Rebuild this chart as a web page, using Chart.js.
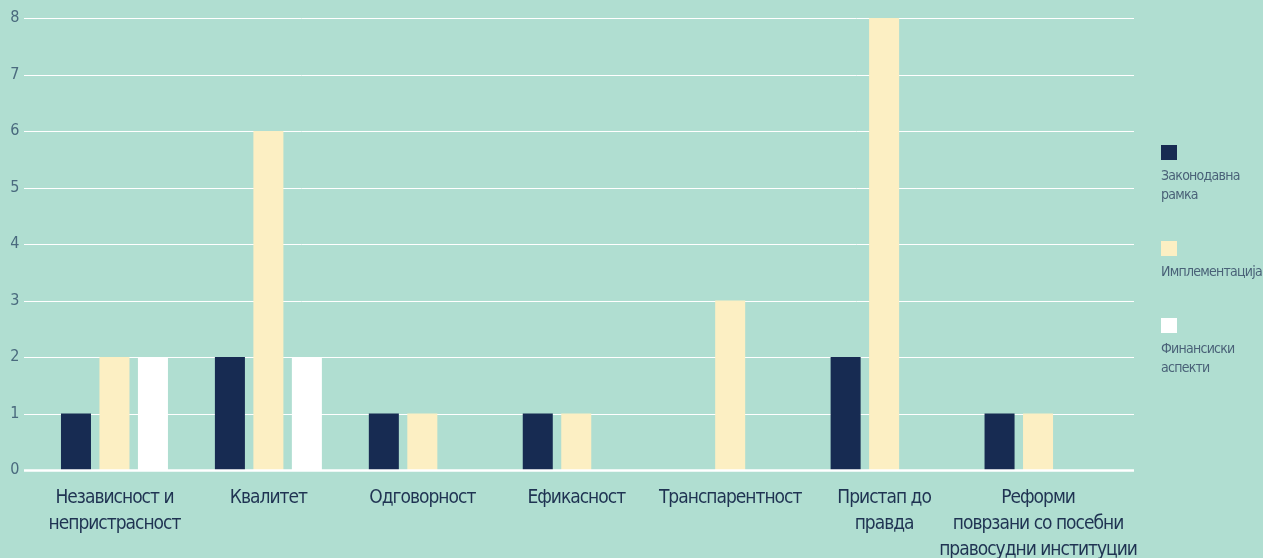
<!DOCTYPE html>
<html>
<head>
<meta charset="utf-8">
<script src="https://cdn.jsdelivr.net/npm/chart.js@4/dist/chart.umd.min.js"></script>
<style>
  html, body { margin: 0; padding: 0; background: #b0ded1; }
  #wrap { position: relative; width: 1263px; height: 558px; overflow: hidden; background: #b0ded1; }
  #c { position: absolute; left: 0; top: 0; }
  #legend { position: absolute; left: 1161px; top: 145px; font-family: 'DejaVu Sans Condensed', 'DejaVu Sans', sans-serif; font-size: 14px; letter-spacing: -0.75px; color: #4a6278; }
  .item { margin-bottom: 37px; }
  .sw { width: 16px; height: 15px; margin-bottom: 6px; }
  .lbl { line-height: 19px; white-space: nowrap; }
</style>
</head>
<body>
<div id="wrap">
  <canvas id="c" width="1263" height="558"></canvas>
  <div id="legend"></div>
</div>
<script>
const categories = [
  ["Независност и", "непристрасност"],
  "Квалитет",
  "Одговорност",
  "Ефикасност",
  "Транспарентност",
  ["Пристап до", "правда"],
  ["Реформи", "поврзани со посебни", "правосудни институции"]
];
const seriesNames = [["Законодавна", "рамка"], ["Имплементација"], ["Финансиски", "аспекти"]];
const zakonodavna = [1, 2, 1, 1, 0, 2, 1];
const implementacija = [2, 6, 1, 1, 3, 8, 1];
const finansiski = [2, 2, 0, 0, 0, 0, 0];
const yTicks = [0, 1, 2, 3, 4, 5, 6, 7, 8];
const colors = ["#172b52", "#fcefc3", "#ffffff"];

const FONT = "'DejaVu Sans Condensed', 'DejaVu Sans', sans-serif";
Chart.defaults.font.family = FONT;

const gridPlugin = {
  id: 'extGrid',
  beforeDraw(chart) {
    chart.ctx.letterSpacing = '-1px';
  },
  beforeDatasetsDraw(chart) {
    const ctx = chart.ctx, y = chart.scales.y;
    ctx.save();
    ctx.strokeStyle = '#ffffff';
    ctx.lineWidth = 1;
    yTicks.forEach(v => {
      if (v === 0) return;
      const py = Math.round(y.getPixelForValue(v)) + 0.5;
      ctx.beginPath(); ctx.moveTo(24, py); ctx.lineTo(1134, py); ctx.stroke();
    });
    ctx.restore();
  },
  afterDatasetsDraw(chart) {
    const ctx = chart.ctx, y = chart.scales.y;
    const py = y.getPixelForValue(0) + 0.5;
    ctx.save();
    ctx.strokeStyle = '#ffffff';
    ctx.lineWidth = 2.5;
    ctx.beginPath(); ctx.moveTo(24, py); ctx.lineTo(1134, py); ctx.stroke();
    ctx.restore();
  }
};

const dataSets = [zakonodavna, implementacija, finansiski];
new Chart(document.getElementById('c'), {
  type: 'bar',
  data: {
    labels: categories,
    datasets: dataSets.map((d, i) => ({
      label: seriesNames[i].join(' '),
      data: d,
      backgroundColor: colors[i],
      borderWidth: 0,
      categoryPercentage: 0.75,
      barPercentage: 0.78
    }))
  },
  options: {
    responsive: false,
    animation: false,
    layout: { padding: { top: 18, right: 148, bottom: 0, left: 0 } },
    plugins: { legend: { display: false }, tooltip: { enabled: false } },
    scales: {
      x: {
        grid: { display: false, drawTicks: false },
        border: { display: false },
        ticks: { color: '#1f3352', font: { size: 19, lineHeight: 1.37 }, padding: 15, maxRotation: 0, autoSkip: false },
        afterFit(s) { s.height = 88; }
      },
      y: {
        min: 0, max: 8,
        grid: { display: false, drawTicks: true, tickLength: 19 },
        border: { display: false },
        afterBuildTicks(s) { s.ticks = yTicks.map(v => ({ value: v })); },
        ticks: { color: '#4a6a7e', font: { size: 16 }, padding: 0 },
        afterFit(s) { s.width = 37.5; }
      }
    }
  },
  plugins: [gridPlugin]
});

const lg = document.getElementById('legend');
seriesNames.forEach((n, i) => {
  const it = document.createElement('div'); it.className = 'item';
  const sw = document.createElement('div'); sw.className = 'sw'; sw.style.background = colors[i];
  const lb = document.createElement('div'); lb.className = 'lbl'; lb.innerHTML = n.join('<br>');
  it.appendChild(sw); it.appendChild(lb); lg.appendChild(it);
});
</script>
</body>
</html>
